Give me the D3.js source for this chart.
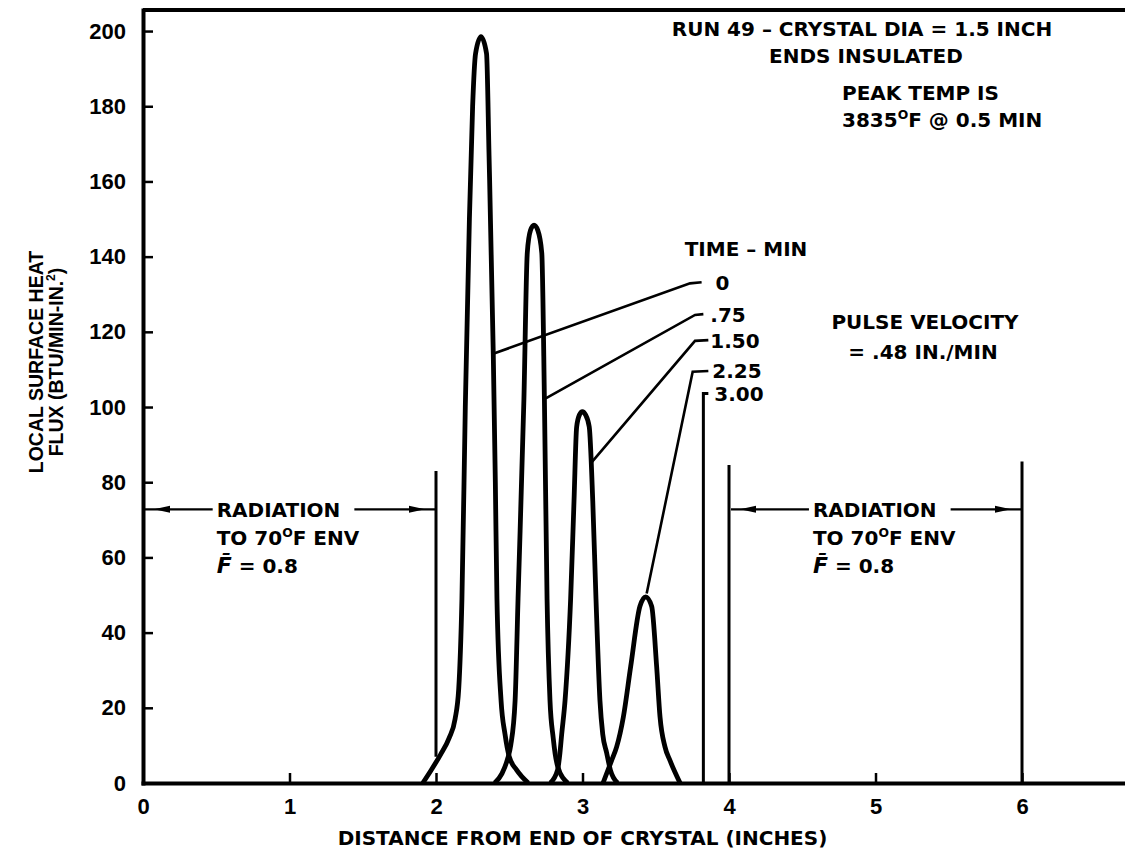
<!DOCTYPE html>
<html><head><meta charset="utf-8">
<script src="https://cdn.jsdelivr.net/npm/d3@7"></script>
<style>
html,body{margin:0;padding:0;background:#fff;}
svg{display:block;}
</style></head><body>
<svg id="chart" width="1125" height="861"></svg>
<script>
// ---------------- DATA ----------------
const xTicks = [0, 1, 2, 3, 4, 5, 6];
const yTicks = [0, 20, 40, 60, 80, 100, 120, 140, 160, 180, 200];
const timeLabels = ["0", ".75", "1.50", "2.25", "3.00"];

// heat-flux pulses (x = inches, y = BTU/MIN-IN.^2)
const curveT0 = [[1.91,0],[1.96,3],[2.03,7.5],[2.09,12],[2.13,17],[2.155,25],[2.177,49],[2.20,100],[2.228,150],[2.25,180],[2.27,194],[2.307,198.5],[2.345,194],[2.362,167],[2.391,114],[2.405,80],[2.416,49],[2.444,22],[2.471,13],[2.50,7],[2.55,3.5],[2.63,0]];
const curveT075 = [[2.40,0],[2.45,2.5],[2.49,6.6],[2.51,10],[2.54,22],[2.56,49],[2.60,102],[2.623,141],[2.645,147],[2.669,148.4],[2.695,147],[2.722,141],[2.74,102],[2.758,49],[2.778,22],[2.80,12],[2.83,4.5],[2.90,0]];
const curveT150 = [[2.78,0],[2.83,3.5],[2.846,8],[2.858,13],[2.881,22],[2.919,49],[2.942,75],[2.96,94.7],[2.98,98],[2.999,98.8],[3.02,98],[3.046,94.7],[3.07,75],[3.092,49],[3.119,22],[3.138,13],[3.165,8],[3.19,3.5],[3.24,0]];
const curveT225 = [[3.14,0],[3.199,6],[3.233,9.6],[3.279,17.6],[3.329,31],[3.392,47],[3.431,49.5],[3.472,47],[3.506,31],[3.529,17.6],[3.563,9.6],[3.597,6],[3.666,0]];

// leader lines from each pulse to its time label
const leader0   = [[2.40,114.3],[3.734,132.9],[3.813,133.2]];
const leader075 = [[2.749,102.3],[3.768,124.5],[3.825,124.7]];
const leader150 = [[3.065,85.4],[3.768,117.6],[3.859,117.8]];
const leader225 = [[3.438,50.4],[3.752,109.4],[3.859,109.6]];
const leader300 = [[3.825,0],[3.825,103.6],[3.859,103.6]];

// radiation zones: [xStart, xEnd]; boundary marks: [x, yFrom, yTo]
const radiationZones = [[0, 2], [4, 6]];
const boundaryMarks = [[2, 7, 83], [4, 0, 84.6], [6, 0, 85.5]];
const radiationLevel = 72.8;
const radiationLines = ["RADIATION", "TO 70|O|F ENV", " = 0.8"];

// ---------------- LAYOUT ----------------
const svg = d3.select("#chart");
const x = d3.scaleLinear().domain([0, 6.703]).range([143, 1125]);
const y = d3.scaleLinear().domain([0, 205.6]).range([783, 10]);

const TXT = "'DejaVu Sans', 'Liberation Sans', sans-serif";
const NUM = "'Liberation Sans', Arial, sans-serif";

function rich(sel, str) {
  const parts = str.split("|");
  parts.forEach((p, i) => {
    const t = sel.append("tspan").text(p);
    if (i % 2 === 1) t.attr("dy", -8).attr("font-size", "0.62em");
    else if (i > 0) t.attr("dy", 8);
  });
  return sel;
}
function label(px, py, str, anchor, size) {
  const t = svg.append("text")
    .attr("x", px).attr("y", py)
    .attr("text-anchor", anchor || "start")
    .attr("font-family", TXT).attr("font-weight", "bold")
    .attr("font-size", size || 20).attr("fill", "#000");
  rich(t, str);
  return t;
}

// axes
const yAxis = d3.axisLeft(y).tickValues(yTicks).tickSize(-10).tickSizeOuter(0)
  .tickPadding(17).tickFormat(d3.format("d"));
const xAxis = d3.axisBottom(x).tickValues(xTicks).tickSize(-10).tickSizeOuter(0)
  .tickPadding(15).tickFormat(d3.format("d"));

const gy = svg.append("g").attr("transform", `translate(${x(0)},0)`).call(yAxis);
const gx = svg.append("g").attr("transform", `translate(0,${y(0)})`).call(xAxis);
[gx, gy].forEach(g => {
  g.select(".domain").attr("stroke", "#000").attr("stroke-width", 4).attr("stroke-linecap", "square");
  g.selectAll(".tick line").attr("stroke", "#000").attr("stroke-width", 2.5);
  g.selectAll(".tick text").attr("font-family", NUM).attr("font-weight", "bold")
    .attr("font-size", 22).attr("fill", "#000");
});
// top frame line
svg.append("line")
  .attr("x1", x(0)).attr("x2", x(6.703)).attr("y1", y(205.6)).attr("y2", y(205.6))
  .attr("stroke", "#000").attr("stroke-width", 4);

// axis titles
svg.append("text").attr("x", x(3)).attr("y", 845).attr("text-anchor", "middle")
  .attr("font-family", TXT).attr("font-weight", "bold").attr("font-size", 20)
  .text("DISTANCE FROM END OF CRYSTAL (INCHES)");
svg.append("text").attr("transform", "translate(43,362) rotate(-90)").attr("text-anchor", "middle")
  .attr("font-family", NUM).attr("font-weight", "bold").attr("font-size", 19.5)
  .text("LOCAL SURFACE HEAT");
rich(svg.append("text").attr("transform", "translate(63,362) rotate(-90)").attr("text-anchor", "middle")
  .attr("font-family", NUM).attr("font-weight", "bold").attr("font-size", 19.5),
  "FLUX (BTU/MIN-IN.|2|)");

// pulses
const line = d3.line().x(d => x(d[0])).y(d => y(d[1])).curve(d3.curveMonotoneX);
[curveT0, curveT075, curveT150, curveT225].forEach(c => {
  svg.append("path").attr("d", line(c)).attr("fill", "none")
    .attr("stroke", "#000").attr("stroke-width", 4.8).attr("stroke-linejoin", "round");
});

// leaders + time labels
const lin = d3.line().x(d => x(d[0])).y(d => y(d[1]));
const leaders = [leader0, leader075, leader150, leader225, leader300];
const labelDx = [14, 7, 2, 4, 6];
leaders.forEach((L, i) => {
  svg.append("path").attr("d", lin(L)).attr("fill", "none")
    .attr("stroke", "#000").attr("stroke-width", i === 4 ? 3 : 2.6);
  const end = L[L.length - 1];
  label(x(end[0]) + labelDx[i], y(end[1]) + 7.5, timeLabels[i]);
});
label(746, 255.5, "TIME \u2013 MIN", "middle");

// radiation boundaries
boundaryMarks.forEach(b => {
  svg.append("line").attr("x1", x(b[0])).attr("x2", x(b[0]))
    .attr("y1", y(b[1])).attr("y2", y(b[2]))
    .attr("stroke", "#000").attr("stroke-width", 3);
});
// radiation zones: arrows + text
const zoneTextX = [0.503, 4.573];
radiationZones.forEach((z, i) => {
  const tx = x(zoneTextX[i]);
  const ay = y(radiationLevel);
  const t = label(tx, ay + 7.5, radiationLines[0]);
  const tw = t.node().getComputedTextLength();
  label(tx, ay + 35.5, radiationLines[1]);
  const f = label(tx, ay + 63.5, "");
  f.append("tspan").attr("font-style", "italic").attr("font-size", 22).text("F\u0304");
  f.append("tspan").text(radiationLines[2]);
  const xa = x(z[0]), xb = x(z[1]);
  const segs = [[xa + 2, tx - 4], [tx + tw + 14, xb - 1]];
  segs.forEach(s => svg.append("line").attr("x1", s[0]).attr("x2", s[1]).attr("y1", ay).attr("y2", ay)
    .attr("stroke", "#000").attr("stroke-width", 2.2));
  const hl = [[xa + 11, xa + 27], [xb - 11, xb - 27]];
  hl.forEach(h => svg.append("path")
    .attr("d", `M${h[0]},${ay} L${h[1]},${ay - 3.5} L${h[1]},${ay + 3.5} Z`).attr("fill", "#000"));
});

// header notes
label(862, 36, "RUN 49 \u2013 CRYSTAL DIA = 1.5 INCH", "middle");
label(866, 63, "ENDS INSULATED", "middle");
label(842, 100, "PEAK TEMP IS");
label(842, 126.5, "3835|O|F @ 0.5 MIN");
label(925, 329, "PULSE VELOCITY", "middle");
label(923, 359, "= .48 IN./MIN", "middle");
</script>
</body></html>
